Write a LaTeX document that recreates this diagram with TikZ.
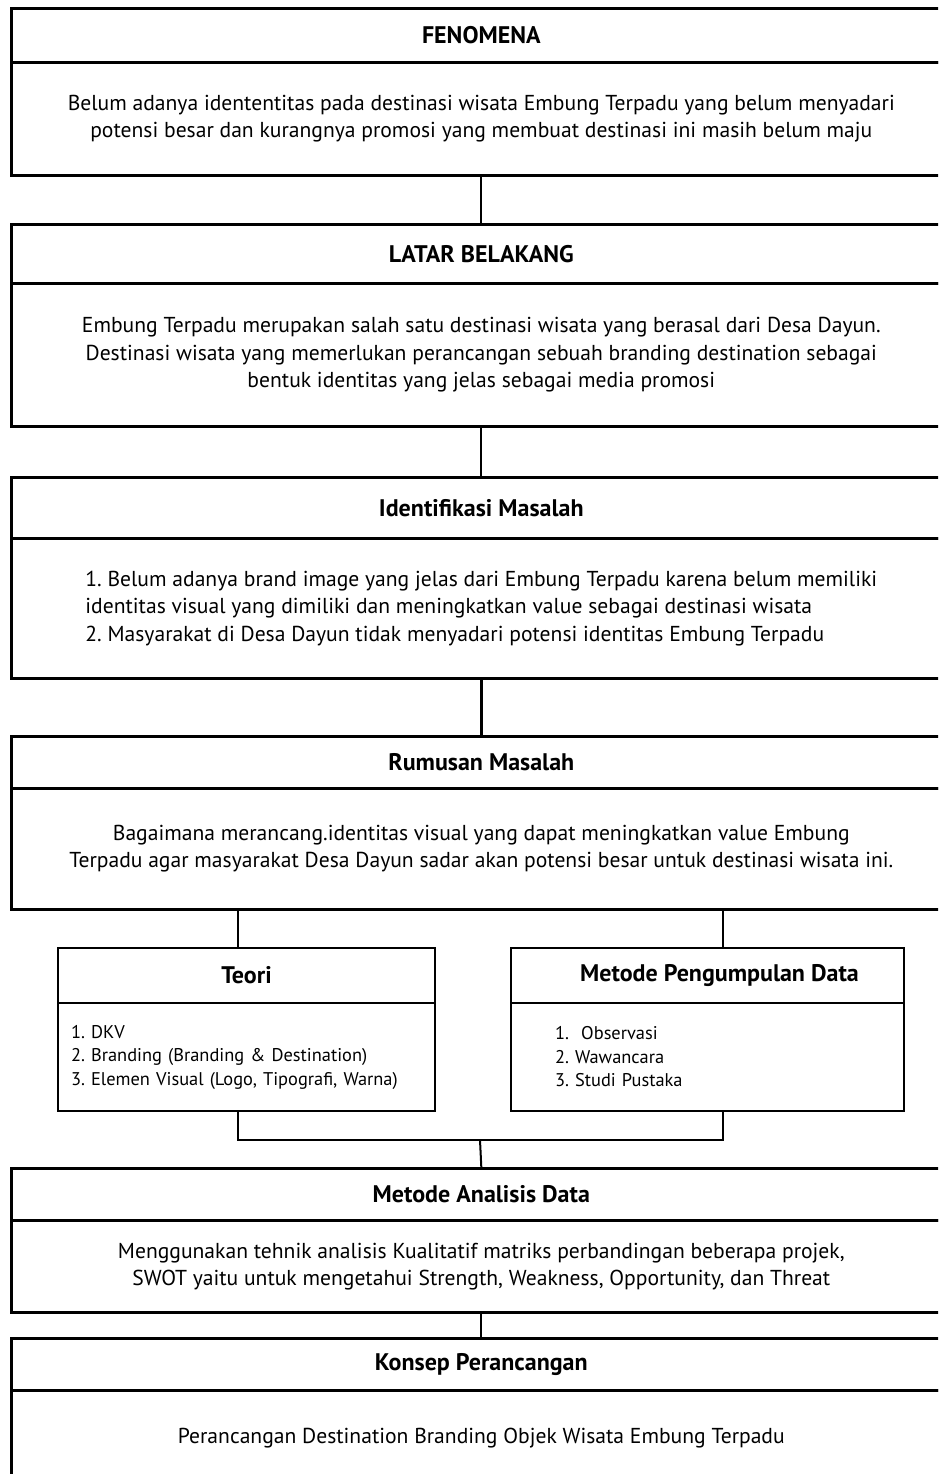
\documentclass[tikz,border=0pt]{standalone}
\usepackage{fontspec}
\setmainfont{PT Sans}
\frenchspacing
\newcommand{\hdfont}{\fontsize{24}{28}\selectfont\bfseries}
\newcommand{\bdfont}{\fontsize{21.6}{27.3}\selectfont}
\newcommand{\smhdfont}{\fontsize{24}{28}\selectfont\bfseries}
\newcommand{\smfont}{\fontsize{18.4}{23.5}\selectfont}
\tikzset{
  mainhead/.style={draw, line width=2.6pt, anchor=north west, minimum width=940pt, minimum height=#1, inner sep=0pt, font=\hdfont},
  mainbody/.style={draw, line width=2.6pt, anchor=north west, minimum width=940pt, minimum height=#1, inner sep=0pt, font=\bdfont, align=center},
  smallhead/.style={draw, line width=2pt, anchor=north west, minimum height=55pt, inner sep=0pt, font=\smhdfont},
  smallbody/.style={draw, line width=2pt, anchor=north west, minimum height=108pt, inner ysep=0pt, font=\smfont, align=left},
  link/.style={line width=2pt},
}
\begin{document}
\begin{tikzpicture}[x=1pt,y=-1pt]
\useasboundingbox (0,0) rectangle (938,1474);
\clip (0,0) rectangle (938,1474);
% FENOMENA
\node[mainhead=54pt] (fh) at (10,7) {FENOMENA};
\node[mainbody=113pt] (fb) at (10,61) {Belum adanya idententitas pada destinasi wisata Embung Terpadu yang belum menyadari\\potensi besar dan kurangnya promosi yang membuat destinasi ini masih belum maju};
% LATAR BELAKANG
\node[mainhead=59pt] (lh) at (10,223) {LATAR BELAKANG};
\node[mainbody=143pt] (lb) at (10,282) {Embung Terpadu merupakan salah satu destinasi wisata yang berasal dari Desa Dayun.\\Destinasi wisata yang memerlukan perancangan sebuah branding destination sebagai\\bentuk identitas yang jelas sebagai media promosi};
% Identifikasi
\node[mainhead=61pt] (ih) at (10,476) {Identifikasi Masalah};
\node[mainbody=140pt, align=left] (ib) at (10,537) {1. Belum adanya brand image yang jelas dari Embung Terpadu karena belum memiliki\\identitas visual yang dimiliki dan meningkatkan value sebagai destinasi wisata\\2. Masyarakat di Desa Dayun tidak menyadari potensi identitas Embung Terpadu};
% Rumusan
\node[mainhead=52pt] (rh) at (10,735) {Rumusan Masalah};
\node[mainbody=121pt] (rb) at (10,787) {Bagaimana merancang.identitas visual yang dapat meningkatkan value Embung\\Terpadu agar masyarakat Desa Dayun sadar akan potensi besar untuk destinasi wisata ini.};
% Teori
\node[smallhead, minimum width=377pt] (th) at (57,947) {Teori};
\node[smallbody, text width=351pt, inner xsep=13pt] (tb) at (57,1002) {1. DKV\\2. Branding (Branding \& Destination)\\3. Elemen Visual (Logo, Tipografi, Warna)};
% Metode Pengumpulan
\node[smallhead, minimum width=393pt] (mh) at (510,947) {\hspace*{24pt}Metode Pengumpulan Data};
\node[smallbody, text width=305pt, inner xsep=44pt] (mb) at (510,1002) {1.\ \ Observasi\\2. Wawancara\\3. Studi Pustaka};
% Metode Analisis
\node[mainhead=52pt] (ah) at (10,1167) {Metode Analisis Data};
\node[mainbody=92pt] (ab) at (10,1219) {Menggunakan tehnik analisis Kualitatif matriks perbandingan beberapa projek,\\SWOT yaitu untuk mengetahui Strength, Weakness, Opportunity, dan Threat};
% Konsep
\node[mainhead=52pt] (kh) at (10,1337) {Konsep Perancangan};
\node[mainbody=96pt] (kb) at (10,1389) {Perancangan Destination Branding Objek Wisata Embung Terpadu};
% connectors
\coordinate (tl) at (238,1140);
\coordinate (tr) at (723,1140);
\coordinate (mid) at (480,1140);
\draw[link] (fb.south) -- (lh.north);
\draw[link] (lb.south) -- (ih.north);
\draw[link, line width=2.6pt] (ib.south) -- (rh.north);
\draw[link] (rb.south -| tl) -- (th.north -| tl);
\draw[link] (rb.south -| tr) -- (mh.north -| tr);
\draw[link] (tb.south -| tl) -- (tl) -- (tr) -- (mb.south -| tr);
\draw[link] (mid) -- (ah.north);
\draw[link] (ab.south) -- (kh.north);
\end{tikzpicture}
\end{document}
